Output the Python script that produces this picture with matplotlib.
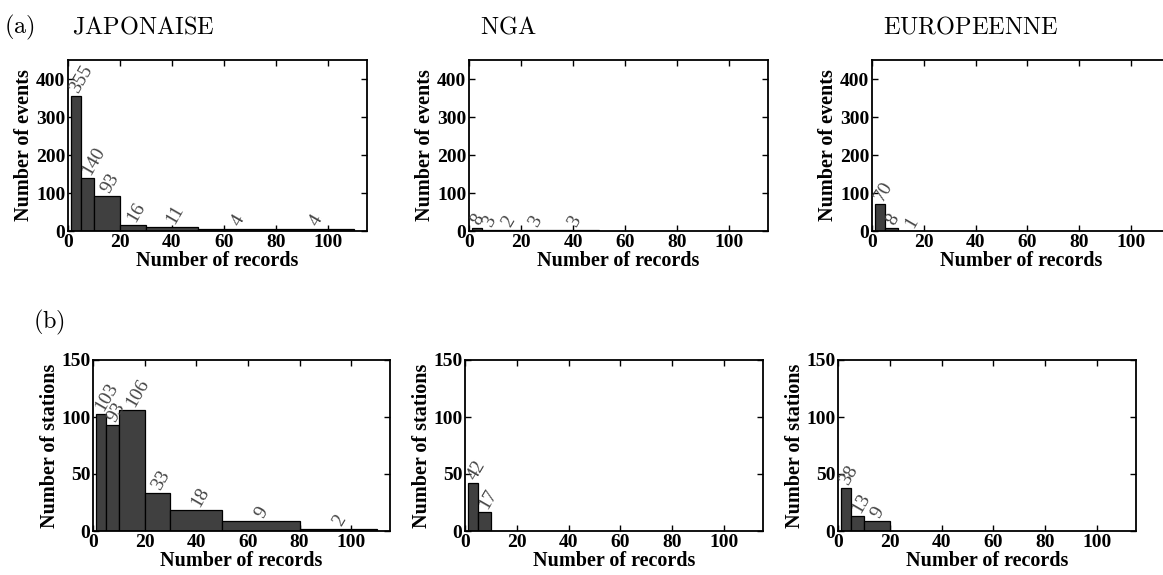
import matplotlib
matplotlib.use("Agg")
import matplotlib.pyplot as plt
import numpy as np

# ---------------------------------------------------------------------------
# Data: histogram counts per bin of "number of records"
# ---------------------------------------------------------------------------
BIN_EDGES = [1, 5, 10, 20, 30, 50, 80, 110]

DATABASES = ["JAPONAISE", "NGA", "EUROPEENNE"]

# (a) number of events per bin
EVENTS_JAP = [355, 140, 93, 16, 11, 4, 4]
EVENTS_NGA = [8, 3, 2, 3, 3]
EVENTS_EUR = [70, 8, 1]

# (b) number of stations per bin
STATIONS_JAP = [103, 93, 106, 33, 18, 9, 2]
STATIONS_NGA = [42, 17]
STATIONS_EUR = [38, 13, 9]

EVENT_YTICKS = [0, 100, 200, 300, 400]
STATION_YTICKS = [0, 50, 100, 150]
XTICKS = [0, 20, 40, 60, 80, 100]

BAR_COLOR = "#404040"
LABEL_COLOR = "#454545"

plt.rcParams["mathtext.fontset"] = "cm"
TICK_FONT = dict(family="Liberation Serif", weight="bold", size=14)
AXLABEL_FONT = dict(family="Liberation Serif", weight="bold", size=14.5)

W, H = 1163, 575


def px_axes(fig, left, top, right, bottom):
    return fig.add_axes([left / W, 1 - bottom / H, (right - left) / W, (bottom - top) / H])


def draw_hist(ax, counts, ylim, yticks, ylabel):
    edges = np.array(BIN_EDGES[:len(counts) + 1], dtype=float)
    widths = np.diff(edges)
    ax.bar(edges[:-1], counts, widths, align="edge",
           color=BAR_COLOR, edgecolor="black", linewidth=0.9, zorder=2)
    offset = ylim * 0.025
    for x0, w, c in zip(edges[:-1], widths, counts):
        ax.text(x0 + w / 2 - 0.5, c + offset, str(c), rotation=60,
                rotation_mode="anchor", ha="left", va="center",
                color=LABEL_COLOR, family="Liberation Serif", size=14,
                zorder=3)
    ax.set_xlim(0, 115)
    ax.set_ylim(0, ylim)
    ax.set_xticks(XTICKS)
    ax.set_yticks(yticks)
    ax.tick_params(direction="in", top=True, right=True, length=4, width=1,
                   pad=2)
    for lbl in ax.get_xticklabels() + ax.get_yticklabels():
        lbl.set_fontproperties(matplotlib.font_manager.FontProperties(**TICK_FONT))
    ax.set_xlabel("Number of records", fontdict=AXLABEL_FONT, labelpad=0)
    ax.set_ylabel(ylabel, fontdict=AXLABEL_FONT, labelpad=1)
    for sp in ax.spines.values():
        sp.set_linewidth(1.3)


fig = plt.figure(figsize=(W / 100, H / 100), dpi=100)

# top row: events
ax_a = [
    px_axes(fig, 68, 60, 367, 231),
    px_axes(fig, 469, 60, 768, 231),
    px_axes(fig, 872, 60, 1170, 231),
]
# bottom row: stations
ax_b = [
    px_axes(fig, 93, 360, 390, 531),
    px_axes(fig, 465, 360, 763, 531),
    px_axes(fig, 838, 360, 1136, 531),
]

for ax, counts in zip(ax_a, [EVENTS_JAP, EVENTS_NGA, EVENTS_EUR]):
    draw_hist(ax, counts, 450, EVENT_YTICKS, "Number of events")
for ax, counts in zip(ax_b, [STATIONS_JAP, STATIONS_NGA, STATIONS_EUR]):
    draw_hist(ax, counts, 150, STATION_YTICKS, "Number of stations")

# panel titles
title_kw = dict(size=17.5, va="center", ha="left")
fig.text(4 / W, 1 - 27 / H, r"$\mathrm{(a)}$", **title_kw)
for name, xpx in zip(DATABASES, [72, 480, 883]):
    fig.text(xpx / W, 1 - 27 / H, r"$\mathrm{%s}$" % name, **title_kw)
fig.text(33 / W, 1 - 322 / H, r"$\mathrm{(b)}$", **title_kw)

fig.savefig("out.png", dpi=100)
